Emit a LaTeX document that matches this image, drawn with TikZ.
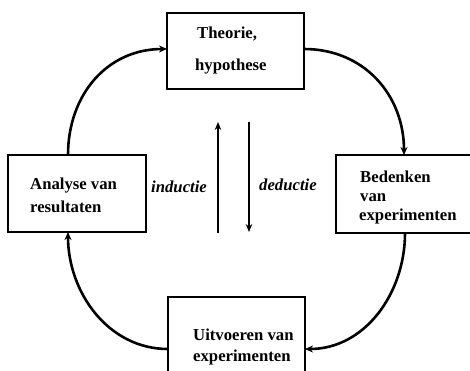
\documentclass[tikz,border=0pt]{standalone}
\usepackage{fontspec}
\setmainfont{Liberation Serif}
\usetikzlibrary{arrows.meta}
\tikzset{
  box/.style={draw, line width=1.5bp, rectangle, inner sep=0pt, outer sep=0pt},
  lbl/.style={anchor=base west, inner sep=0pt, font=\fontsize{16.7bp}{20bp}\selectfont\bfseries},
  ilbl/.style={anchor=base west, inner sep=0pt, font=\fontsize{16.7bp}{20bp}\selectfont\bfseries\itshape},
  arr/.style={line width=2.6bp, -{Stealth[length=8bp,width=7bp]}},
  marr/.style={line width=2.4bp, -{Stealth[length=8bp,width=6.5bp]}}
}
\begin{document}
\begin{tikzpicture}[x=1bp,y=-1bp]
\useasboundingbox (0,0) rectangle (470,370);
\clip (0,0) rectangle (470,370);
% boxes
\node[box, minimum width=137bp, minimum height=76bp] (top) at (235.5,51) {};
\node[box, minimum width=138bp, minimum height=77bp] (left) at (77,193.5) {};
\node[box, minimum width=144bp, minimum height=78bp] (right) at (408,194) {};
\node[box, minimum width=137bp, minimum height=88bp] (bottom) at (236.5,341) {};
% texts
\node[lbl] (t1) at (197,38) {Theorie,};
\node[lbl] (t2) at (195,70) {hypothese};
\node[lbl] (l1) at (30,189) {Analyse van};
\node[lbl] (l2) at (30,212) {resultaten};
\node[lbl] (r1) at (360,182) {Bedenken};
\node[lbl] (r2) at (360,201) {van};
\node[lbl] (r3) at (359,220) {experimenten};
\node[lbl] (b1) at (193,340) {Uitvoeren van};
\node[lbl] (b2) at (193,361) {experimenten};
\node[ilbl] (ind) at (151,192) {inductie};
\node[ilbl] (ded) at (259,190) {deductie};
% cycle arrows
\draw[arr] ([xshift=-9bp]left.north) .. controls +(0,-60) and +(-60,0) .. ([yshift=2bp]top.west);
\draw[arr] ([yshift=2bp]top.east) .. controls +(60,0) and +(0,-60) .. ([xshift=-4bp]right.north);
\draw[arr] ([xshift=-3bp]right.south) .. controls +(0,60) and +(60,0) .. ([yshift=-8bp]bottom.east);
\draw[arr] ([yshift=-8bp]bottom.west) .. controls +(-60,0) and +(0,60) .. ([xshift=-9bp]left.south);
% induction / deduction
\coordinate (ua) at (218,233);
\coordinate (ub) at (218,122);
\coordinate (da) at (249,122);
\coordinate (db) at (249,232);
\draw[marr] (ua) -- (ub);
\draw[marr] (da) -- (db);
\end{tikzpicture}
\end{document}
